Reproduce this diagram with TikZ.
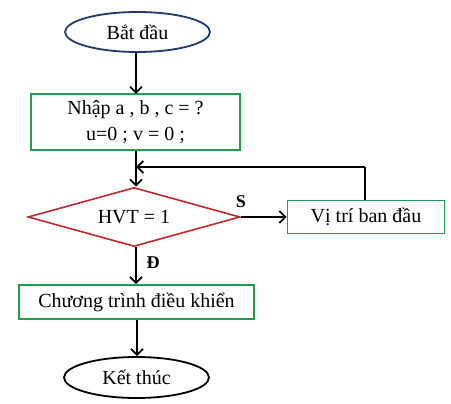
\documentclass[tikz,border=0pt]{standalone}
\usepackage{fontspec}
\setmainfont{Liberation Serif}
\usetikzlibrary{shapes.geometric,arrows.meta}
\definecolor{navy}{HTML}{1F3A6B}
\definecolor{boxgreen}{HTML}{1E9E50}
\definecolor{dred}{HTML}{C0282D}
\begin{document}
\begin{tikzpicture}[x=1pt,y=-1pt,
  txt/.style={font=\fontsize{20}{26}\selectfont},
  term/.style={ellipse,draw,line width=1.8pt,minimum width=145pt,minimum height=40pt,inner sep=0pt,txt},
  procbox/.style={rectangle,draw=boxgreen,line width=1.8pt,inner sep=0pt,txt,align=center},
  decision/.style={diamond,draw=dred,line width=1.6pt,aspect=3.6,minimum width=212pt,minimum height=59pt,inner sep=0pt,txt},
  conn/.style={line width=1.8pt,-{Straight Barb[length=6pt,width=12pt,line width=1.8pt]}},
  lbl/.style={font=\bfseries\fontsize{18}{20}\selectfont}
]
\useasboundingbox (0,0) rectangle (451,404);
\node[term,draw=navy] (start) at (137.5,32) {Bắt đầu};
\node[procbox,minimum width=209pt,minimum height=56pt] (input) at (135.5,122) {Nhập a , b , c = ?\\u=0 ; v = 0 ;};
\node[decision] (dec) at (134,217) {HVT = 1};
\node[procbox,minimum width=157pt,minimum height=33pt] (reset) at (366,217) {Vị trí ban đầu};
\node[procbox,minimum width=235pt,minimum height=34pt] (prog) at (136.5,302) {Chương trình điều khiển};
\node[term,draw=black,minimum width=145pt,minimum height=41pt] (stop) at (136.5,377.5) {Kết thúc};
\coordinate (corner) at (365,167);
\coordinate (join) at (136,167);

\draw[conn] (start.south -| 136,0) -- (136,94);
\draw[line width=1.8pt] (input.south -| join) -- (join);
\draw[conn] (join) -- (dec.north -| join);
\draw[line width=1.8pt] (reset.north -| corner) -- (corner);
\draw[conn] (corner) -- (join);
\draw[conn] (dec.east) -- (reset.west);
\draw[conn] (dec.south -| 136,0) -- (prog.north -| 136,0);
\draw[conn] (prog.south -| 137,0) -- (stop.north -| 137,0);
\node[lbl] (S) at (241,202) {S};
\node[lbl] (D) at (153,263) {Đ};
\end{tikzpicture}
\end{document}
